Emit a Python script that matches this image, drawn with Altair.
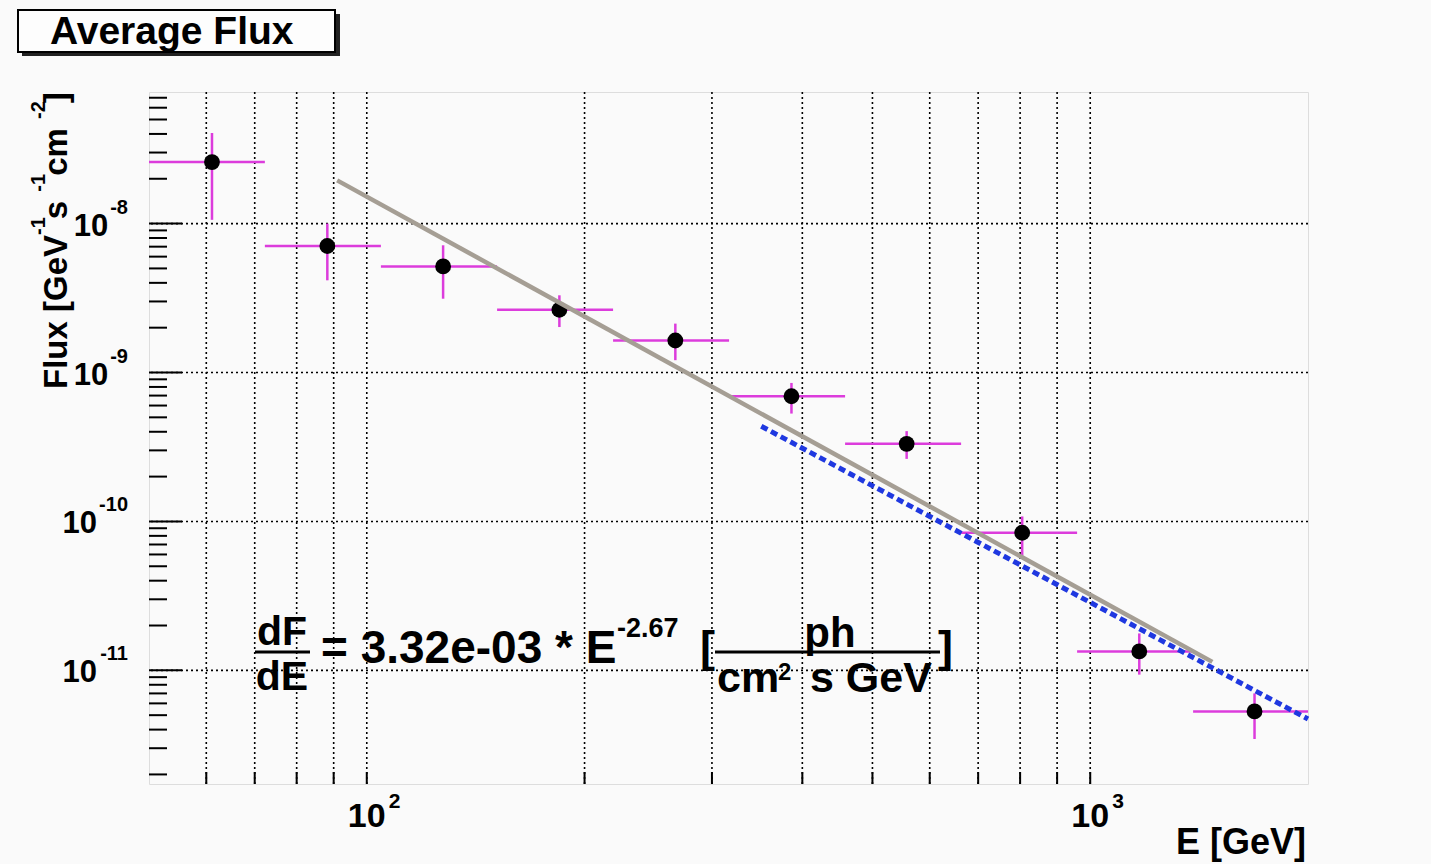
import altair as alt
import pandas as pd

# ---------------- data ----------------
energy = [61.1, 88.2, 127.5, 184.6, 267.0, 386.4, 557.5, 805.3, 1169.0, 1687.0]
e_low = [50.0, 72.3, 104.6, 151.4, 219.0, 316.8, 458.3, 663.0, 959.1, 1387.4]
e_high = [72.3, 104.6, 151.4, 219.0, 316.8, 458.3, 663.0, 959.1, 1387.4, 2000.0]
flux = [2.59e-8, 7.07e-9, 5.16e-9, 2.64e-9, 1.64e-9, 6.93e-10, 3.32e-10, 8.39e-11, 1.34e-11, 5.30e-12]
flux_low = [1.06e-8, 4.16e-9, 3.13e-9, 2.02e-9, 1.21e-9, 5.30e-10, 2.63e-10, 5.89e-11, 9.36e-12, 3.46e-12]
flux_high = [4.06e-8, 1.00e-8, 7.15e-9, 3.30e-9, 2.13e-9, 8.51e-10, 4.04e-10, 1.08e-10, 1.77e-11, 7.00e-12]

fit_energy = [91.0, 1475.0]
fit_flux = [1.95e-8, 1.14e-11]
alt_energy = [351.0, 2000.0]
alt_flux = [4.36e-10, 4.71e-12]

fit_norm = "3.32e-03"
fit_index = "-2.67"

x_grid = [60, 70, 80, 90, 100, 200, 300, 400, 500, 600, 700, 800, 900, 1000]
x_label_vals = [100, 1000]
x_label_exps = ["2", "3"]
y_label_vals = [1e-8, 1e-9, 1e-10, 1e-11]
y_label_exps = ["-8", "-9", "-10", "-11"]
y_minor = [k * 10.0 ** n for n in range(-12, -7) for k in range(2, 10)
           if 1.725e-12 < k * 10.0 ** n < 7.65e-8]

title_text = "Average Flux"
x_title = "E [GeV]"

# ---------------- layout ----------------
X0, Y0 = 149, 92          # plot origin in page pixels
PW, PH = 1159, 692        # plot size
FONT = "Liberation Sans"
MAG = "#dc3cdc"
BG = "#fafafa"

xs = alt.Scale(type="log", domain=[50, 2000], nice=False)
ys = alt.Scale(type="log", domain=[1.725e-12, 7.65e-8], nice=False)

WID = {" ": 278, "[": 333, "]": 333, "-": 333, ".": 278, "*": 389, "=": 584,
       "A": 722, "E": 667, "F": 611, "G": 778, "V": 667, "a": 556, "c": 556,
       "d": 611, "e": 556, "g": 611, "h": 611, "l": 278, "m": 889, "p": 611,
       "r": 389, "s": 556, "u": 611, "v": 556, "x": 556}


def tw(s, size):
    return sum(WID.get(c, 556) for c in s) / 1000.0 * size


ONE = pd.DataFrame({"k": [0]})


def txt(s, x, y, size, align="left", angle=0):
    return alt.Chart(ONE).mark_text(
        text=s, align=align, baseline="alphabetic", fontSize=size, font=FONT,
        fontWeight="bold", angle=angle, color="black"
    ).encode(x=alt.value(x - X0), y=alt.value(y - Y0))


def hbar(x1, x2, y, w=3):
    return alt.Chart(ONE).mark_rule(color="black", strokeWidth=w).encode(
        x=alt.value(x1 - X0), x2=alt.value(x2 - X0), y=alt.value(y - Y0))


def box(x1, x2, y1, y2, fill, stroke=None):
    kw = dict(fill=fill)
    if stroke:
        kw.update(stroke=stroke, strokeWidth=2)
    return alt.Chart(ONE).mark_rect(**kw).encode(
        x=alt.value(x1 - X0), x2=alt.value(x2 - X0),
        y=alt.value(y1 - Y0), y2=alt.value(y2 - Y0))


pts = pd.DataFrame(dict(energy=energy, e_low=e_low, e_high=e_high, flux=flux,
                        flux_low=flux_low, flux_high=flux_high))
fit_df = pd.DataFrame(dict(E=fit_energy, F=fit_flux))
alt_df = pd.DataFrame(dict(E=alt_energy, F=alt_flux))
xg_df = pd.DataFrame(dict(v=x_grid))
yg_df = pd.DataFrame(dict(v=y_label_vals))
ym_df = pd.DataFrame(dict(v=y_minor))
xl_df = pd.DataFrame(dict(v=x_label_vals, exp=x_label_exps))

layers = []

# grid
layers.append(alt.Chart(xg_df).mark_rule(color="black", strokeWidth=1.6, strokeDash=[2, 3])
              .encode(x=alt.X("v:Q", scale=xs, axis=None)))
layers.append(alt.Chart(yg_df).mark_rule(color="black", strokeWidth=1.6, strokeDash=[2, 3])
              .encode(y=alt.Y("v:Q", scale=ys, axis=None)))
# inner ticks
layers.append(alt.Chart(xg_df).mark_rule(color="black", strokeWidth=2)
              .encode(x=alt.X("v:Q", scale=xs, axis=None), y=alt.value(PH), y2=alt.value(PH - 12)))
layers.append(alt.Chart(ym_df).mark_rule(color="black", strokeWidth=2)
              .encode(y=alt.Y("v:Q", scale=ys, axis=None), x=alt.value(0), x2=alt.value(18)))
layers.append(alt.Chart(yg_df).mark_rule(color="black", strokeWidth=2)
              .encode(y=alt.Y("v:Q", scale=ys, axis=None), x=alt.value(0), x2=alt.value(33)))

# error bars
layers.append(alt.Chart(pts).mark_rule(color=MAG, strokeWidth=2.5).encode(
    x=alt.X("e_low:Q", scale=xs, axis=None), x2="e_high:Q",
    y=alt.Y("flux:Q", scale=ys, axis=None)))
layers.append(alt.Chart(pts).mark_rule(color=MAG, strokeWidth=2.5).encode(
    x=alt.X("energy:Q", scale=xs, axis=None),
    y=alt.Y("flux_low:Q", scale=ys, axis=None), y2="flux_high:Q"))
# points
layers.append(alt.Chart(pts).mark_circle(size=250, color="black", opacity=1).encode(
    x=alt.X("energy:Q", scale=xs, axis=None), y=alt.Y("flux:Q", scale=ys, axis=None)))
# fit lines
layers.append(alt.Chart(fit_df).mark_line(color="#a59e94", strokeWidth=4.5).encode(
    x=alt.X("E:Q", scale=xs, axis=None), y=alt.Y("F:Q", scale=ys, axis=None)))
layers.append(alt.Chart(alt_df).mark_line(color="#1f38e0", strokeWidth=5, strokeDash=[7, 4]).encode(
    x=alt.X("E:Q", scale=xs, axis=None), y=alt.Y("F:Q", scale=ys, axis=None)))

# x tick labels
layers.append(alt.Chart(xl_df).mark_text(text="10", align="center", baseline="alphabetic",
                                         fontSize=34, font=FONT, fontWeight="bold", color="black")
              .encode(x=alt.X("v:Q", scale=xs, axis=None), y=alt.value(827 - Y0)))
layers.append(alt.Chart(xl_df).mark_text(align="left", baseline="alphabetic", dx=22,
                                         fontSize=21, font=FONT, fontWeight="bold", color="black")
              .encode(x=alt.X("v:Q", scale=xs, axis=None), y=alt.value(808 - Y0), text="exp:N"))

# y tick labels
for v, e in zip(y_label_vals, y_label_exps):
    d = pd.DataFrame(dict(v=[v], exp=[e]))
    right = 128 - X0
    layers.append(alt.Chart(d).mark_text(align="right", baseline="alphabetic", dy=-10,
                                         fontSize=20, font=FONT, fontWeight="bold", color="black")
                  .encode(y=alt.Y("v:Q", scale=ys, axis=None), x=alt.value(right), text="exp:N"))
    layers.append(alt.Chart(d).mark_text(text="10", align="right", baseline="alphabetic", dy=12,
                                         fontSize=31, font=FONT, fontWeight="bold", color="black")
                  .encode(y=alt.Y("v:Q", scale=ys, axis=None),
                          x=alt.value(right - tw(e, 20) - 2)))

# axis titles
layers.append(txt(x_title, 1306, 854, 36, align="right"))
pos = 389
for s, size, sup in [("Flux [GeV", 33, False), ("-1", 20, True), (" s", 33, False),
                     ("-1", 20, True), (" cm", 33, False), ("-2", 20, True), ("]", 33, False)]:
    layers.append(txt(s, 45 if sup else 67, pos, size, angle=270))
    pos -= tw(s, size) - (2 if sup else 0)

# title box
layers.append(box(22, 340, 14, 56, "#222222"))
layers.append(box(18, 335, 10, 52, "#fdfdfd", stroke="black"))
layers.append(txt(title_text, 50, 44, 39))

# formula
layers.append(txt("dF", 282, 645, 41, align="center"))
layers.append(hbar(255, 310, 652))
layers.append(txt("dE", 282, 690, 41, align="center"))
layers.append(txt("= " + fit_norm + " * E", 321, 663, 46))
layers.append(txt(fit_index, 617, 637, 27))
layers.append(txt("[", 700, 662, 45))
layers.append(hbar(715, 940, 652))
layers.append(txt("ph", 830, 647, 42, align="center"))
layers.append(txt("cm", 717, 692, 43))
layers.append(txt("2", 778, 680, 24))
layers.append(txt("s GeV", 810, 692, 43))
layers.append(txt("]", 938, 662, 45))

chart = alt.layer(*layers).properties(
    width=PW, height=PH,
    autosize=alt.AutoSizeParams(type="none"),
    padding={"left": X0, "top": Y0, "right": 1431 - X0 - PW, "bottom": 864 - Y0 - PH},
).configure_view(stroke="#222222", strokeWidth=2, fill=BG).configure(background=BG)

chart.save("out.html", embed_options={"renderer": "svg", "actions": False})
